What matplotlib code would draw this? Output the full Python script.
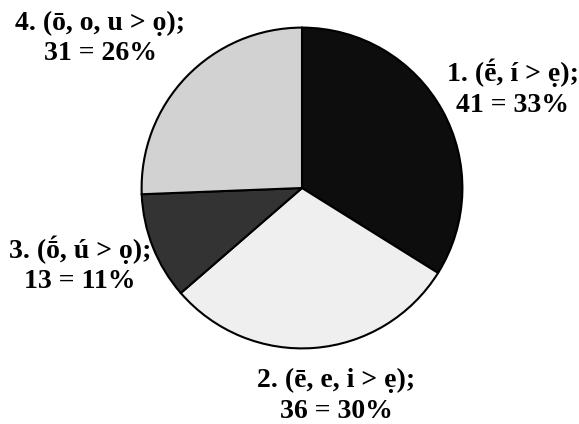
import matplotlib
matplotlib.use("Agg")
import matplotlib.pyplot as plt

labels_top = ["1. (ḗ, í > ẹ);", "2. (ē, e, i > ẹ);", "3. (ṓ, ú > ọ);", "4. (ō, o, u > ọ);"]
counts = [41, 36, 13, 31]
percents = [33, 30, 11, 26]
colors = ["#0d0d0d", "#efefef", "#333333", "#d2d2d2"]

W, H = 579, 424
fig = plt.figure(figsize=(W / 100, H / 100), dpi=100)
cx, cy, r = 302, 188, 162
ax = fig.add_axes([(cx - r) / W, (H - cy - r) / H, 2 * r / W, 2 * r / H])
ax.pie(counts, colors=colors, startangle=90, counterclock=False,
       wedgeprops=dict(edgecolor="black", linewidth=1.5))
ax.set_xlim(-1.01, 1.01)
ax.set_ylim(-1.01, 1.01)
ax.set_aspect("equal")
ax.axis("off")

# label centers in pixel coordinates (x, y of first line, y of second line)
pos = [(513, 73, 105), (336, 380, 412), (80, 250, 282), (100, 23, 54)]
fam = ["Liberation Serif", "DejaVu Serif"]
for lab, c, p, (x, y1, y2) in zip(labels_top, counts, percents, pos):
    fig.text(x / W, 1 - y1 / H, lab, ha="center", va="center", fontsize=20,
             fontweight="bold", family=fam)
    fig.text(x / W, 1 - y2 / H, f"{c} = {p}%", ha="center", va="center", fontsize=20,
             fontweight="bold", family=fam)

fig.savefig("out.png", dpi=100)
